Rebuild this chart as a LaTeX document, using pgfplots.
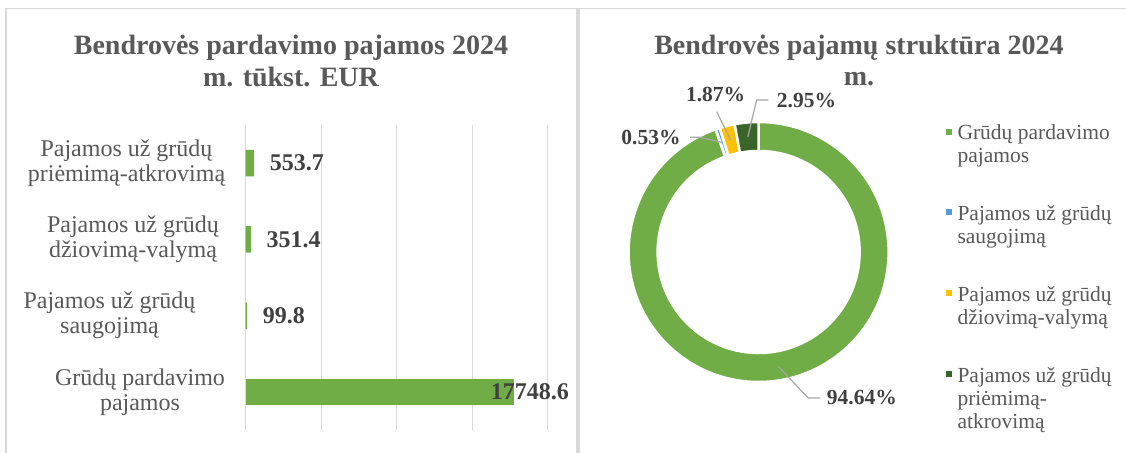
\documentclass[border=0pt]{standalone}
\usepackage{pgfplots}
\pgfplotsset{compat=1.18}
\usepackage{fontspec}
\setmainfont{Liberation Serif}
\definecolor{barg}{HTML}{70AD47}
\definecolor{darkg}{HTML}{3B6428}
\definecolor{yel}{HTML}{FFC000}
\definecolor{blu}{HTML}{5B9BD5}
\definecolor{gridgray}{HTML}{D9D9D9}
\definecolor{framegray}{HTML}{D9D9D9}
\definecolor{titlegray}{HTML}{595959}
\definecolor{catgray}{HTML}{595959}
\definecolor{labgray}{HTML}{404040}
\definecolor{leadgray}{HTML}{A6A6A6}
\newcommand\titlefont{\fontsize{28bp}{32bp}\selectfont\bfseries}
\newcommand\catfont{\fontsize{24bp}{25bp}\selectfont}
\newcommand\dlfont{\fontsize{24bp}{25bp}\selectfont\bfseries}
\newcommand\pctfont{\fontsize{21.5bp}{23bp}\selectfont\bfseries}
\newcommand\legfont{\fontsize{21.5bp}{23bp}\selectfont}
% data (thousand EUR)
\def\vA{17748.6}% Grudu pardavimo pajamos
\def\vB{99.8}% saugojima
\def\vC{351.4}% dziovima-valyma
\def\vD{553.7}% priemima-atkrovima
\begin{document}
\begin{tikzpicture}[x=1bp,y=1bp]
\useasboundingbox (0,0) rectangle (1126,453);
\fill[white] (0,0) rectangle (1126,453);
\draw[framegray, line width=1.5bp] (6,0) -- (6,444.7) -- (1126,444.7);
\fill[framegray] (575.7,0) rectangle (580,444.7);
% titles
\node[anchor=base, text=titlegray, font=\titlefont, inner sep=0] at (291,398) {Bendrovės pardavimo pajamos 2024};
\node[anchor=base, text=titlegray, font=\titlefont, inner sep=0] at (291,366.3) {m. tūkst. EUR};
\node[anchor=base, text=titlegray, font=\titlefont, inner sep=0] at (859,398) {Bendrovės pajamų struktūra 2024};
\node[anchor=base, text=titlegray, font=\titlefont, inner sep=0] at (859,367) {m.};
% ---------- bar chart ----------
\begin{axis}[at={(245.7bp,23bp)}, anchor=south west, scale only axis,
  width=302bp, height=305bp,
  xmin=0, xmax=20000, ymin=-0.5, ymax=3.5,
  xbar, bar width=26.7bp, bar shift=0pt,
  scaled x ticks=false,
  xtick={0,5000,10000,15000,20000}, xticklabels={}, ytick=\empty,
  xmajorgrids, grid style={draw=gridgray, line width=1.3bp},
  axis line style={draw=none}, major tick length=0pt, clip=false]
\addplot[fill=barg, draw=none, point meta=explicit symbolic,
  nodes near coords, nodes near coords align={horizontal},
  every node near coord/.append style={anchor=west, inner sep=0pt, xshift=15.5bp, font=\dlfont, text=labgray}]
  coordinates {(99.8,1) [99.8] (351.4,2) [351.4] (553.7,3) [553.7]};
\addplot[fill=barg, draw=none] coordinates {(17748.6,0)};
\node[anchor=west, inner sep=0pt, xshift=-23bp, font=\dlfont, text=labgray] at (axis cs:17748.6,0) {17748.6};
\node[align=center, font=\catfont, text=catgray, inner sep=0pt, xshift=-105.7bp] at (axis cs:0,0) {Grūdų pardavimo\\pajamos};
\node[align=center, font=\catfont, text=catgray, inner sep=0pt, xshift=-136.2bp] at (axis cs:0,1) {Pajamos už grūdų\\saugojimą};
\node[align=center, font=\catfont, text=catgray, inner sep=0pt, xshift=-112.7bp] at (axis cs:0,2) {Pajamos už grūdų\\džiovimą-valymą};
\node[align=center, font=\catfont, text=catgray, inner sep=0pt, xshift=-119.2bp] at (axis cs:0,3) {Pajamos už grūdų\\priėmimą-atkrovimą};
\end{axis}
% ---------- donut ----------
\edef\tot{\fpeval{\vA+\vB+\vC+\vD}}
\edef\aA{90}
\edef\aB{\fpeval{round(\aA-360*\vA/\tot,4)}}
\edef\aC{\fpeval{round(\aB-360*\vB/\tot,4)}}
\edef\aD{\fpeval{round(\aC-360*\vC/\tot,4)}}
\edef\aE{\fpeval{round(\aD-360*\vD/\tot,4)}}
\begin{axis}[at={(758.6bp,201bp)}, anchor=center, scale only axis,
  width=260bp, height=260bp, xmin=-130, xmax=130, ymin=-130, ymax=130,
  hide axis, clip=false]
\addplot[draw=none] coordinates {(0,0)};
\filldraw[fill=barg, draw=white, line width=2.5bp] (axis cs:{130*cos(\aA)},{130*sin(\aA)}) arc[start angle=\aA, end angle=\aB, radius=130bp] -- (axis cs:{101*cos(\aB)},{101*sin(\aB)}) arc[start angle=\aB, end angle=\aA, radius=101bp] -- cycle;
\filldraw[fill=blu, draw=white, line width=2.8bp] (axis cs:{130*cos(\aB)},{130*sin(\aB)}) arc[start angle=\aB, end angle=\aC, radius=130bp] -- (axis cs:{101*cos(\aC)},{101*sin(\aC)}) arc[start angle=\aC, end angle=\aB, radius=101bp] -- cycle;
\filldraw[fill=yel, draw=white, line width=2.5bp] (axis cs:{130*cos(\aC)},{130*sin(\aC)}) arc[start angle=\aC, end angle=\aD, radius=130bp] -- (axis cs:{101*cos(\aD)},{101*sin(\aD)}) arc[start angle=\aD, end angle=\aC, radius=101bp] -- cycle;
\filldraw[fill=darkg, draw=white, line width=2.5bp] (axis cs:{130*cos(\aD)},{130*sin(\aD)}) arc[start angle=\aD, end angle=\aE, radius=130bp] -- (axis cs:{101*cos(\aE)},{101*sin(\aE)}) arc[start angle=\aE, end angle=\aD, radius=101bp] -- cycle;
% leader lines and labels
\draw[leadgray, line width=1.2bp] (axis cs:20,-114.7) -- (axis cs:49.6,-146) -- (axis cs:61.8,-146);
\node[anchor=west, inner sep=0pt, font=\pctfont, text=labgray] at (axis cs:68.1,-146) {94.64\%};
\draw[leadgray, line width=1.2bp] (axis cs:-10.8,115) -- (axis cs:-2,152) -- (axis cs:9.7,152);
\node[anchor=west, inner sep=0pt, font=\pctfont, text=labgray] at (axis cs:18.1,151) {2.95\%};
\draw[leadgray, line width=1.2bp] (axis cs:-28,112) -- (axis cs:-41.9,140.3);
\node[anchor=center, inner sep=0pt, font=\pctfont, text=labgray] at (axis cs:-43,157) {1.87\%};
\draw[leadgray, line width=1.2bp] (axis cs:-36.4,109.6) -- (axis cs:-58.6,114.7) -- (axis cs:-68.6,114.7);
\node[anchor=east, inner sep=0pt, font=\pctfont, text=labgray] at (axis cs:-77.9,114) {0.53\%};
\end{axis}
% ---------- legend ----------
\fill[barg] (946,318.3) rectangle (952,324.3);
\node[anchor=base west, inner sep=0pt, font=\legfont, text=catgray] at (957.3,313.5) {Grūdų pardavimo};
\node[anchor=base west, inner sep=0pt, font=\legfont, text=catgray] at (957.3,290.5) {pajamos};
\fill[blu] (946,237.7) rectangle (952,243.7);
\node[anchor=base west, inner sep=0pt, font=\legfont, text=catgray] at (957.3,232.9) {Pajamos už grūdų};
\node[anchor=base west, inner sep=0pt, font=\legfont, text=catgray] at (957.3,209.9) {saugojimą};
\fill[yel] (946,156.7) rectangle (952,162.7);
\node[anchor=base west, inner sep=0pt, font=\legfont, text=catgray] at (957.3,151.9) {Pajamos už grūdų};
\node[anchor=base west, inner sep=0pt, font=\legfont, text=catgray] at (957.3,128.9) {džiovimą-valymą};
\fill[darkg] (946,75.7) rectangle (952,81.7);
\node[anchor=base west, inner sep=0pt, font=\legfont, text=catgray] at (957.3,70.9) {Pajamos už grūdų};
\node[anchor=base west, inner sep=0pt, font=\legfont, text=catgray] at (957.3,47.9) {priėmimą-};
\node[anchor=base west, inner sep=0pt, font=\legfont, text=catgray] at (957.3,24.9) {atkrovimą};
\end{tikzpicture}
\end{document}
